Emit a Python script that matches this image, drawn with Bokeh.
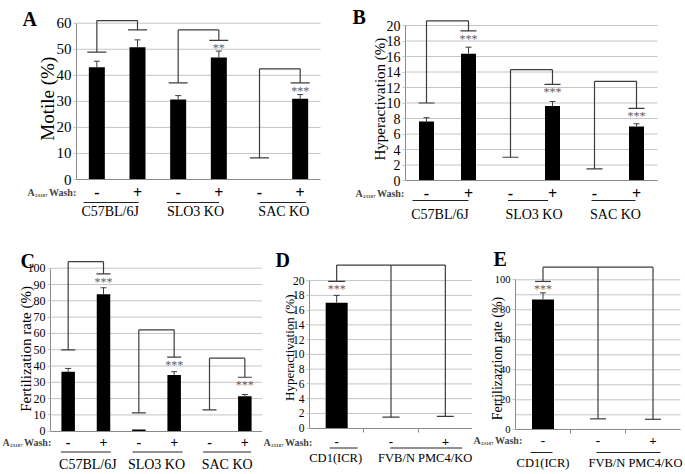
import numpy as np
from bokeh.plotting import figure
from bokeh.layouts import column, row
from bokeh.models import Range1d, FixedTicker, LinearAxis, Label, LabelSet, ColumnDataSource
from bokeh.core.properties import value
from bokeh.embed import file_html
from bokeh.resources import INLINE

# ---------------- data ----------------
wash_six = ["-", "+", "-", "+", "-", "+"]
strains_three = ["C57BL/6J", "SLO3 KO", "SAC KO"]
wash_three = ["-", "-", "+"]
strains_two = ["CD1(ICR)", "FVB/N PMC4/KO"]

# A: motility
a_motile = [43.1, 50.8, 30.7, 46.8, 0.0, 31.0]
a_err = [2.3, 2.8, 1.5, 2.5, 0.0, 1.6]
a_brk_top = [61.0, 57.4, 42.5]
a_brk_ctrl = [48.9, 37.1, 8.3]
a_brk_trt = [57.4, 53.4, 37.1]
a_stars = ["", "", "", "**", "", "***"]

# B: hyperactivation
b_hyper = [7.6, 16.35, 0.0, 9.6, 0.0, 6.97]
b_err = [0.5, 0.85, 0.0, 0.6, 0.0, 0.35]
b_brk_top = [20.6, 14.3, 12.8]
b_brk_ctrl = [10.0, 3.0, 1.5]
b_brk_trt = [19.3, 12.4, 9.3]
b_stars = ["", "***", "", "***", "", "***"]

# C: fertilization rate
c_fert = [36.5, 84.0, 1.0, 34.5, 0.0, 21.5]
c_err = [2.0, 4.0, 0.0, 2.0, 0.0, 1.0]
c_brk_top = [104.0, 62.2, 44.8]
c_brk_ctrl = [49.9, 11.3, 13.1]
c_brk_trt = [96.5, 45.4, 33.1]
c_stars = ["", "***", "", "***", "", "***"]

# D: hyperactivation, CD1 vs PMC4 KO
d_hyper = [17.0, 0.0, 0.0]
d_err = [1.0, 0.0, 0.0]
d_brk_top = [22.1]
d_brk_caps = [19.9, 1.5, 1.6]
d_stars = ["***", "", ""]

# E: fertilization rate, CD1 vs PMC4 KO
e_fert = [86.9, 0.0, 0.0]
e_err = [4.4, 0.0, 0.0]
e_brk_top = [108.4]
e_brk_caps = [98.9, 7.3, 7.0]
e_stars = ["***", "", ""]

FONT = "Liberation Serif"
GRID = "#c4c4c4"
AXIS = "#8a8a8a"
LINE = "#3c3c3c"
STAR = "#606060"


def build(values, errors, brackets, stars, wash, groups, group_slots, cfg):
    n = len(values)
    slot = cfg["fw"] / n
    k, y0 = cfg["k"], cfg["y0"]
    w, h, mbl = cfg["w"], cfg["h"], cfg["mbl"]

    def X(rel_px):
        return rel_px / slot

    def Y(py):
        return (y0 - py) / k

    def W(px):
        return px / slot

    p = figure(width=w, height=h, x_range=Range1d(X(-mbl), X(w - mbl)),
               y_range=Range1d(Y(cfg["top"] + h), Y(cfg["top"])), output_backend="svg",
               toolbar_location=None, title=None, x_axis_location=None,
               y_axis_location=None, min_border=0)
    p.outline_line_color = None
    p.background_fill_color = "white"
    p.border_fill_color = "white"
    p.xgrid.visible = False
    p.ygrid.visible = False

    yt = cfg["yticks"]
    ymt = cfg.get("yminor", [])
    # horizontal gridlines between the axis and the right end
    gl = [t for t in yt + ymt if t != 0]
    p.segment(x0=[0] * len(gl), x1=[n] * len(gl), y0=gl, y1=gl, line_color=GRID, line_width=1)

    yax = LinearAxis(fixed_location=0, ticker=FixedTicker(ticks=yt), bounds=(0, max(yt)),
                     major_label_text_font=FONT, major_label_text_font_size=cfg["tick_fs"],
                     major_label_text_color="black", axis_line_color=AXIS,
                     major_tick_line_color=GRID, major_tick_in=0, major_tick_out=3,
                     minor_tick_line_color=None, major_label_standoff=2)
    p.add_layout(yax, "left")

    xt = cfg["xticks"]
    xa = LinearAxis(fixed_location=0, ticker=FixedTicker(ticks=xt), bounds=(0, n),
                    axis_line_color=AXIS, major_tick_line_color=AXIS,
                    major_tick_in=0, major_tick_out=4,
                    minor_tick_line_color=None,
                    major_label_text_font_size="0px",
                    major_label_overrides={t: "" for t in xt})
    p.add_layout(xa, "below")

    centers = np.arange(n) + 0.5
    # bars
    p.vbar(x=centers, top=values, bottom=0, width=W(cfg["bar_px"]),
           fill_color="black", line_color=None)
    # error bars (upper only)
    ex, ey0, ey1 = [], [], []
    for c, v, e in zip(centers, values, errors):
        if e > 0:
            ex.append(c)
            ey0.append(v)
            ey1.append(v + e)
    ec = W(3)
    p.segment(x0=ex, y0=ey0, x1=ex, y1=ey1, line_color=LINE, line_width=1)
    p.segment(x0=[x - ec for x in ex], y0=ey1, x1=[x + ec for x in ex], y1=ey1,
              line_color=LINE, line_width=1)

    # significance brackets
    bx0, by0, bx1, by1 = [], [], [], []
    sx, sy, st = [], [], []
    ch = W(cfg["cap_px"])
    for slots, caps, top in brackets:
        for s, cval in zip(slots, caps):
            xc = s + 0.5
            bx0 += [xc, xc - ch]
            by0 += [cval, cval]
            bx1 += [xc, xc + ch]
            by1 += [top, cval]
            if stars[s]:
                sx.append(xc)
                sy.append(cval)
                st.append(stars[s])
        bx0.append(slots[0] + 0.5)
        bx1.append(slots[-1] + 0.5)
        by0.append(top)
        by1.append(top)
    p.segment(x0=bx0, y0=by0, x1=bx1, y1=by1, line_color=LINE, line_width=1.2)
    p.add_layout(LabelSet(x="x", y="y", text="t",
                          source=ColumnDataSource(dict(x=sx, y=sy, t=st)),
                          text_align="center", text_baseline="top", y_offset=-1,
                          text_font=value(FONT), text_font_size="12px",
                          text_color=STAR))

    # wash signs
    p.add_layout(LabelSet(x="x", y="y", text="t",
                          source=ColumnDataSource(dict(x=centers, y=[Y(cfg["sign_y"])] * n, t=wash)),
                          text_align="center", text_baseline="middle",
                          text_font=value(FONT), text_font_size=cfg["sign_fs"],
                          text_font_style="bold", text_color="black"))

    # group labels + overlines
    gx = [float(np.mean([s + 0.5 for s in g])) for g in group_slots]
    tx = [g + W(d) for g, d in zip(gx, cfg["group_dx"])]
    p.add_layout(LabelSet(x="x", y="y", text="t",
                          source=ColumnDataSource(dict(x=tx, y=[Y(cfg["group_y"])] * len(gx), t=groups)),
                          text_align="center", text_baseline="middle",
                          text_font=value(FONT), text_font_size=cfg["group_fs"],
                          text_color="black"))
    oy = Y(cfg["over_y"])
    ox = [g + W(d) for g, d in zip(gx, cfg["over_dx"])]
    p.segment(x0=[g - W(hw) for g, hw in zip(ox, cfg["over_hw"])], y0=[oy] * len(gx),
              x1=[g + W(hw) for g, hw in zip(ox, cfg["over_hw"])], y1=[oy] * len(gx),
              line_color="#222222", line_width=1)

    # "A23187 Wash:" label
    wy = Y(cfg["sign_y"])
    s0 = cfg["wash_rel"]
    p.add_layout(Label(x=X(s0), y=wy, text="A", text_align="left", text_baseline="middle",
                       text_font=FONT, text_font_size="10px", text_font_style="bold"))
    p.add_layout(Label(x=X(s0 + 7.5), y=wy, y_offset=-3, text="23187", text_align="left",
                       text_baseline="middle", text_font=FONT, text_font_size="5px",
                       text_font_style="bold"))
    p.add_layout(Label(x=X(s0 + 21.5), y=wy, text="Wash:", text_align="left",
                       text_baseline="middle", text_font=FONT, text_font_size="10px",
                       text_font_style="bold"))

    # y-axis title
    p.add_layout(Label(x=X(cfg["ylab_rel"]), y=cfg["ylab_val"], text=cfg["ylabel"],
                       angle=np.pi / 2, text_align="center", text_baseline="middle",
                       text_font=FONT, text_font_size=cfg["ylab_fs"], text_color="black"))
    # panel letter
    p.add_layout(Label(x=X(cfg["letter_rel"]), y=Y(cfg["letter_base"]), text=cfg["letter"],
                       text_align="left", text_baseline="alphabetic", text_font=FONT,
                       text_font_size="20px", text_font_style="bold", text_color="black"))
    return p


def pair_brackets(top, ctrl, trt):
    return [([2 * g, 2 * g + 1], [ctrl[g], trt[g]], top[g]) for g in range(len(top))]


pair_slots = [[0, 1], [2, 3], [4, 5]]
ko_slots = [[0], [1, 2]]

cfgA = dict(w=345, h=235, top=0, mbl=76, fw=244, y0=179, k=2.605,
            yticks=list(range(0, 61, 10)), tick_fs="15px", xticks=[], bar_px=16, cap_px=9.5,
            sign_y=192, sign_fs="16px", group_y=211, group_fs="14px", group_dx=[-7, -3, 4],
            over_y=202, over_dx=[-6, -5.5, 3], over_hw=[27.5, 26, 23],
            letter="A", letter_rel=-54, letter_base=18,
            ylabel="Motile (%)", ylab_fs="19px", ylab_rel=-29, ylab_val=31, wash_rel=-49)
cfgB = dict(w=340, h=235, top=0, mbl=60, fw=252, y0=180, k=7.75,
            yticks=list(range(0, 21, 2)), tick_fs="14px", xticks=[], bar_px=15, cap_px=8,
            sign_y=193, sign_fs="16px", group_y=214, group_fs="14px", group_dx=[-7.5, 2.5, 0],
            over_y=200, over_dx=[-7, -3.5, -2], over_hw=[28, 20, 22],
            letter="B", letter_rel=-53, letter_base=16,
            ylabel="Hyperactivation (%)", ylab_fs="15px", ylab_rel=-26, ylab_val=10.5,
            wash_rel=-50)
cfgC = dict(w=262, h=239, top=235, mbl=50, fw=212, y0=430.7, k=1.63,
            yticks=list(range(0, 101, 10)), tick_fs="12px", xticks=[], bar_px=13.5, cap_px=7,
            sign_y=441.7, sign_fs="14px", group_y=464, group_fs="14px", group_dx=[2, 0, 0],
            over_y=451.5, over_dx=[0, 1, 0], over_hw=[25, 25, 24],
            letter="C", letter_rel=-30, letter_base=260,
            ylabel="Fertilization rate (%)", ylab_fs="15px", ylab_rel=-25, ylab_val=50.5,
            wash_rel=-48)
cfgD = dict(w=210, h=239, top=235, mbl=47, fw=163, y0=427.7, k=7.38,
            yticks=list(range(0, 21, 2)), tick_fs="11.5px", xticks=[1, 2], bar_px=22, cap_px=8.5,
            sign_y=441.7, sign_fs="13px", group_y=457, group_fs="12.5px", group_dx=[-1, 7],
            over_y=447.5, over_dx=[7, 8], over_hw=[14, 36],
            letter="D", letter_rel=-34, letter_base=259,
            ylabel="Hyperactivation (%)", ylab_fs="13px", ylab_rel=-20, ylab_val=10.9,
            wash_rel=-46)
cfgE = dict(w=213, h=239, top=235, mbl=43, fw=165, y0=429.3, k=1.5,
            yticks=list(range(0, 101, 20)), yminor=list(range(10, 100, 20)), tick_fs="10.5px",
            xticks=[1, 2], bar_px=22, cap_px=8, sign_y=440, sign_fs="13px", group_y=462,
            group_fs="12.5px", group_dx=[0, 10], over_y=452, over_dx=[-1.5, 3], over_hw=[11, 32],
            letter="E", letter_rel=-22, letter_base=258,
            ylabel="Fertilizaztion rate (%)", ylab_fs="14px", ylab_rel=-18,
            ylab_val=47.5, wash_rel=-42)

pA = build(a_motile, a_err, pair_brackets(a_brk_top, a_brk_ctrl, a_brk_trt), a_stars,
           wash_six, strains_three, pair_slots, cfgA)
pB = build(b_hyper, b_err, pair_brackets(b_brk_top, b_brk_ctrl, b_brk_trt), b_stars,
           wash_six, strains_three, pair_slots, cfgB)
pC = build(c_fert, c_err, pair_brackets(c_brk_top, c_brk_ctrl, c_brk_trt), c_stars,
           wash_six, strains_three, pair_slots, cfgC)
pD = build(d_hyper, d_err, [([0, 1, 2], d_brk_caps, d_brk_top[0])], d_stars,
           wash_three, strains_two, ko_slots, cfgD)
pE = build(e_fert, e_err, [([0, 1, 2], e_brk_caps, e_brk_top[0])], e_stars,
           wash_three, strains_two, ko_slots, cfgE)

layout = column(row(pA, pB), row(pC, pD, pE))
open("out.html", "w").write(file_html(layout, INLINE))
